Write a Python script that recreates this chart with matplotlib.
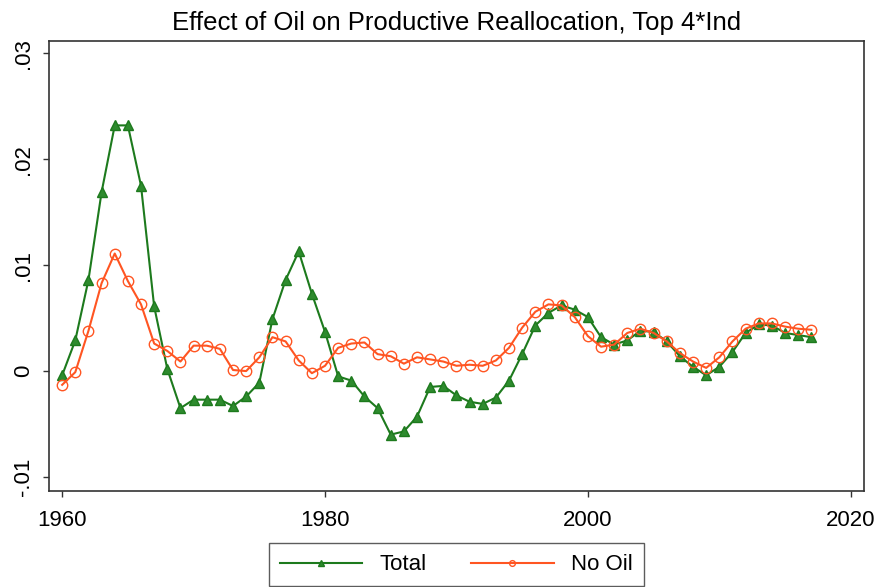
import numpy as np
import matplotlib.pyplot as plt

plt.rcParams['font.family'] = ['Liberation Sans', 'DejaVu Sans']

years = np.arange(1960, 2018)

# 整体效应
total = [-0.0004, 0.0029, 0.0086, 0.0169, 0.0232, 0.0232, 0.0175, 0.0061, 0.0002, -0.0035,
         -0.0027, -0.0027, -0.0027, -0.0033, -0.0024, -0.0011, 0.0049, 0.0086, 0.0113, 0.0073,
         0.0037, -0.0005, -0.0009, -0.0024, -0.0035, -0.0060, -0.0057, -0.0043, -0.0015, -0.0014,
         -0.0023, -0.0029, -0.0031, -0.0025, -0.0009, 0.0016, 0.0043, 0.0055, 0.0062, 0.0058,
         0.0051, 0.0032, 0.0025, 0.0029, 0.0038, 0.0037, 0.0028, 0.0014, 0.0004, -0.0004,
         0.0004, 0.0018, 0.0036, 0.0044, 0.0043, 0.0036, 0.0034, 0.0032]

# 去掉石油
no_oil = [-0.0013, -0.0001, 0.0038, 0.0083, 0.0111, 0.0085, 0.0063, 0.0026, 0.0019, 0.0009,
          0.0024, 0.0024, 0.0021, 0.0001, 0.0000, 0.0013, 0.0032, 0.0028, 0.0010, -0.0002,
          0.0005, 0.0022, 0.0026, 0.0027, 0.0016, 0.0014, 0.0007, 0.0013, 0.0011, 0.0009,
          0.0005, 0.0006, 0.0005, 0.0010, 0.0022, 0.0041, 0.0056, 0.0063, 0.0062, 0.0051,
          0.0033, 0.0023, 0.0025, 0.0036, 0.0040, 0.0036, 0.0028, 0.0017, 0.0009, 0.0003,
          0.0013, 0.0028, 0.0040, 0.0045, 0.0045, 0.0042, 0.0040, 0.0039]

yticks = [-0.01, 0, 0.01, 0.02, 0.03]
ytick_labels = ["-.01", "0", ".01", ".02", ".03"]
xticks = [1960, 1980, 2000, 2020]

fig = plt.figure(figsize=(8.8, 5.87), dpi=100)
ax = fig.add_axes([0.0557, 0.164, 0.926, 0.7667])

green = "#1d7a1d"
orange = "#ff5522"
ax.plot(years, total, color=green, lw=1.5, marker="^", ms=7.5,
        mfc="#2e8b2e", mec=green, mew=1.0, label="Total")
ax.plot(years, no_oil, color=orange, lw=1.5, marker="o", ms=7.5,
        mfc="none", mec=orange, mew=1.0, label="No Oil")

ax.set_xlim(1959.0, 2021.0)
ax.set_ylim(-0.0113, 0.0312)
ax.set_xticks(xticks)
ax.set_xticklabels([str(x) for x in xticks], fontsize=16)
ax.set_yticks(yticks)
ax.set_yticklabels(ytick_labels, fontsize=16, rotation=90, va="center")
ax.tick_params(direction="out", length=4, width=1, color="#333333")
ax.tick_params(axis="x", pad=10)
ax.tick_params(axis="y", pad=7)
for s in ax.spines.values():
    s.set_color("#333333")
    s.set_linewidth(1.2)

ax.set_title("Effect of Oil on Productive Reallocation, Top 4*Ind", fontsize=18.5, pad=8)

leg = ax.legend(loc="upper center", bbox_to_anchor=(0.5, -0.092), ncol=2, fontsize=16,
                frameon=True, fancybox=False, edgecolor="#333333", handlelength=3.7,
                columnspacing=2.0, borderpad=0.5, markerscale=0.55, handletextpad=0.8)
leg.get_frame().set_linewidth(1.0)

fig.savefig("out.png", dpi=100, facecolor="white")
